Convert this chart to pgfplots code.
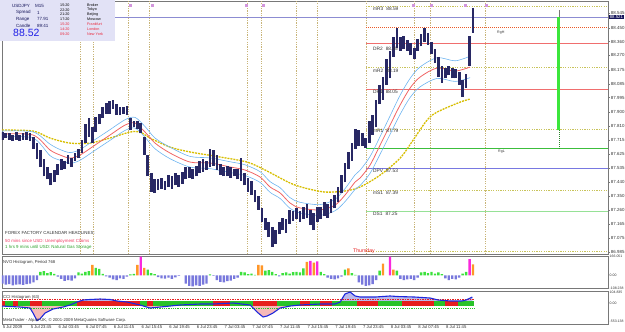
\documentclass[border=0pt]{standalone}
\usepackage{pgfplots}
\pgfplotsset{compat=1.18}
\usepackage{fontspec}
\setmainfont{Liberation Sans}
\definecolor{candle}{RGB}{40,40,100}
\definecolor{olivedot}{RGB}{200,195,90}
\definecolor{vdot}{RGB}{200,180,120}
\definecolor{rgh}{RGB}{235,90,40}
\definecolor{drred}{RGB}{240,110,110}
\definecolor{rgl}{RGB}{60,190,60}
\definecolor{dpv}{RGB}{120,120,225}
\definecolor{ds1}{RGB}{150,225,150}
\definecolor{bid}{RGB}{140,140,210}
\definecolor{maY}{RGB}{215,190,0}
\definecolor{maR}{RGB}{240,100,100}
\definecolor{maB}{RGB}{110,180,240}
\definecolor{nvoB}{RGB}{120,120,220}
\definecolor{nvoG}{RGB}{60,225,60}
\definecolor{nvoO}{RGB}{255,150,40}
\definecolor{nvoM}{RGB}{250,40,220}
\definecolor{cciR}{RGB}{230,30,30}
\definecolor{cciG}{RGB}{40,195,40}
\definecolor{cciL}{RGB}{30,40,220}
\definecolor{cciP}{RGB}{246,185,185}
\definecolor{cciU}{RGB}{185,185,235}
\definecolor{frame}{RGB}{120,120,120}
\definecolor{boxfill}{RGB}{226,226,246}
\definecolor{bidbox}{RGB}{20,20,90}
\definecolor{textgray}{RGB}{50,50,50}
\definecolor{infored}{RGB}{235,40,60}
\definecolor{pinkred}{RGB}{240,60,100}
\definecolor{ffgreen}{RGB}{40,160,40}
\definecolor{vbar}{RGB}{60,230,60}
\definecolor{mark}{RGB}{210,150,220}
\newcommand{\fs}[1]{\fontsize{#1}{#1}\selectfont}
\pgfplotsset{mtax/.style={scale only axis, anchor=south west,
  axis line style={draw=frame, line width=0.5pt},
  tick style={draw=frame, line width=0.4pt}, tick align=outside, major tick length=1.8pt,
  ytick pos=right, yticklabel pos=right,
  yticklabel style={font=\fs{4.4}, text=textgray, inner sep=1pt},
  xmin=-4.05, xmax=83.5, clip=true}}
\begin{document}
\begin{tikzpicture}
\path[use as bounding box] (0pt,0pt) rectangle (625pt,332pt);
%================ MAIN PRICE PANEL
\begin{axis}[mtax, at={(2pt,78pt)}, width=606pt, height=253pt,
  ymin=86.972, ymax=88.626, xtick=\empty,
  ytick={86.985,87.075,87.165,87.260,87.350,87.440,87.535,87.625,87.715,87.810,87.900,87.995,88.085,88.175,88.270,88.360,88.450,88.545},
  yticklabels={86.985,87.075,87.165,87.260,87.350,87.440,87.535,87.625,87.715,87.810,87.900,87.995,88.085,88.175,88.270,88.360,88.450,88.545}]
% session separators
\addplot[vdot, dash pattern=on 1.2pt off 1.2pt, line width=0.6pt, unbounded coords=jump] coordinates {
(7.23,86.972)(7.23,88.626)(7.23,nan)(9.10,86.972)(9.10,88.626)(9.10,nan)
(14.16,86.972)(14.16,88.626)(14.16,nan)(17.2,86.972)(17.2,88.626)(17.2,nan)
(31.36,86.972)(31.36,88.626)(31.36,nan)(33.38,86.972)(33.38,88.626)(33.38,nan)
(38.44,86.972)(38.44,88.626)(38.44,nan)(41.47,86.972)(41.47,88.626)(41.47,nan)
(48.55,86.972)(48.55,88.626)(48.55,nan)(55.49,86.972)(55.49,88.626)(55.49,nan)
(57.8,86.972)(57.8,88.626)(57.8,nan)(65.75,86.972)(65.75,88.626)};
% pivot levels
\addplot[olivedot, dash pattern=on 1.2pt off 1.2pt, line width=0.7pt, unbounded coords=jump] coordinates {
(48.55,88.59)(83.5,88.59)(83.5,nan)(48.55,88.19)(83.5,88.19)(83.5,nan)
(48.55,87.79)(83.5,87.79)(83.5,nan)(48.55,87.39)(83.5,87.39)(83.5,nan)
(48.55,86.99)(83.5,86.99)};
\addplot[rgh, dash pattern=on 1pt off 1pt, line width=0.9pt] coordinates {(48.55,88.45)(83.5,88.45)};
\addplot[drred, line width=0.7pt, unbounded coords=jump] coordinates {(48.55,88.35)(83.5,88.35)(83.5,nan)(48.55,88.05)(83.5,88.05)};
\addplot[rgl, line width=1.1pt] coordinates {(48.55,87.66)(83.5,87.66)};
\addplot[dpv, line width=0.9pt] coordinates {(48.55,87.53)(83.5,87.53)};
\addplot[ds1, line width=0.9pt] coordinates {(48.55,87.25)(83.5,87.25)};
% bid line
\addplot[bid, line width=0.9pt] coordinates {(-4.05,88.521)(83.5,88.521)};
% daily range bar
\addplot[vbar, line width=3pt] coordinates {(76.4,87.78)(76.4,88.521)};
\addplot[rgl!70!black, dash pattern=on 1pt off 1pt, line width=0.5pt] coordinates {(76.4,87.66)(76.4,87.78)};
\addplot[frame, line width=0.4pt] coordinates {(76.4,88.521)(76.4,88.57)};
% moving averages
\addplot[maY, line width=1.3pt, dash pattern=on 2pt off 1pt, smooth] coordinates {
(-4.05,87.782)(0.43,87.776)(2.89,87.730)(5.78,87.697)(8.67,87.697)(11.56,87.730)(14.45,87.769)(15.9,87.769)(17.34,87.730)(20.23,87.671)(23.12,87.639)(27.46,87.606)(31.36,87.573)(33.96,87.521)(37.57,87.436)(39.74,87.403)(42.63,87.377)(45.52,87.384)(47.69,87.410)(50.58,87.488)(53.47,87.599)(55.35,87.717)(57.37,87.848)(58.82,87.900)(62.14,87.965)(63.58,87.985)};
\addplot[maB, line width=0.6pt, smooth] coordinates {
(-4.05,87.776)(0.43,87.770)(2.89,87.69)(4.34,87.655)(5.78,87.635)(7.23,87.655)(9.39,87.72)(11.56,87.785)(13.73,87.85)(15.17,87.865)(16.62,87.805)(18.06,87.73)(20.23,87.67)(23.12,87.61)(26.01,87.60)(28.9,87.575)(31.07,87.555)(33.24,87.51)(34.68,87.445)(36.13,87.405)(37.57,87.34)(39.02,87.31)(41.91,87.295)(44.08,87.33)(45.52,87.40)(46.97,87.49)(47.69,87.52)(49.13,87.61)(50.58,87.74)(52.02,87.875)(53.47,88.01)(54.91,88.12)(56.36,88.195)(58.82,88.255)(61.42,88.235)(63.58,88.265)};
\addplot[maB, line width=0.6pt, smooth] coordinates {
(-4.05,87.736)(0.43,87.730)(2.89,87.615)(4.34,87.585)(5.78,87.565)(7.23,87.585)(9.39,87.65)(11.56,87.715)(13.73,87.78)(15.17,87.795)(16.62,87.735)(18.06,87.66)(20.23,87.595)(23.12,87.54)(26.01,87.53)(28.9,87.505)(31.07,87.485)(33.24,87.44)(34.68,87.375)(36.13,87.335)(37.57,87.27)(39.02,87.24)(41.91,87.225)(44.08,87.255)(45.52,87.315)(46.97,87.395)(47.69,87.42)(49.13,87.50)(50.58,87.625)(52.02,87.755)(53.47,87.885)(54.91,87.995)(56.36,88.065)(58.82,88.12)(61.42,88.10)(63.58,88.125)};
\addplot[maR, line width=0.8pt, smooth] coordinates {
(-4.05,87.756)(0.43,87.750)(2.89,87.652)(4.34,87.619)(5.78,87.599)(7.23,87.619)(9.39,87.684)(11.56,87.750)(13.73,87.815)(15.17,87.828)(16.62,87.769)(18.06,87.697)(20.23,87.632)(23.12,87.573)(26.01,87.567)(28.9,87.541)(31.07,87.521)(33.24,87.475)(34.68,87.410)(36.13,87.371)(37.57,87.305)(39.02,87.273)(41.91,87.260)(44.08,87.292)(45.52,87.358)(46.97,87.443)(47.69,87.469)(49.13,87.554)(50.58,87.684)(52.02,87.815)(53.47,87.946)(54.91,88.057)(56.36,88.129)(58.82,88.188)(61.42,88.168)(63.58,88.194)};
% candles (low-high ranges, 30-minute steps)
\addplot[candle, line width=2.7pt, unbounded coords=jump] coordinates {
(-4,87.72)(-4,87.77)(-4,nan)(-3.5,87.73)(-3.5,87.76)(-3.5,nan)(-3,87.72)(-3,87.76)(-3,nan)(-2.5,87.71)(-2.5,87.75)(-2.5,nan)
(-2,87.72)(-2,87.77)(-2,nan)(-1.5,87.71)(-1.5,87.75)(-1.5,nan)(-1,87.72)(-1,87.76)(-1,nan)(-0.5,87.72)(-0.5,87.77)(-0.5,nan)
(0,87.71)(0,87.76)(0,nan)(0.5,87.66)(0.5,87.74)(0.5,nan)(1,87.59)(1,87.70)(1,nan)(1.5,87.54)(1.5,87.65)(1.5,nan)
(2,87.48)(2,87.59)(2,nan)(2.5,87.46)(2.5,87.54)(2.5,nan)(3,87.42)(3,87.50)(3,nan)(3.5,87.44)(3.5,87.52)(3.5,nan)
(4,87.49)(4,87.56)(4,nan)(4.5,87.52)(4.5,87.59)(4.5,nan)(5,87.53)(5,87.58)(5,nan)(5.5,87.56)(5.5,87.62)(5.5,nan)
(6,87.54)(6,87.60)(6,nan)(6.5,87.58)(6.5,87.63)(6.5,nan)(7,87.60)(7,87.66)(7,nan)(7.5,87.63)(7.5,87.72)(7.5,nan)
(8,87.70)(8,87.82)(8,nan)(8.5,87.74)(8.5,87.86)(8.5,nan)(9,87.70)(9,87.80)(9,nan)(9.5,87.77)(9.5,87.87)(9.5,nan)
(10,87.82)(10,87.89)(10,nan)(10.5,87.86)(10.5,87.93)(10.5,nan)(11,87.89)(11,87.96)(11,nan)(11.5,87.89)(11.5,87.97)(11.5,nan)
(12,87.92)(12,87.98)(12,nan)(12.5,87.88)(12.5,87.95)(12.5,nan)(13,87.88)(13,87.93)(13,nan)(13.5,87.89)(13.5,87.93)(13.5,nan)
(14,87.88)(14,87.94)(14,nan)(14.5,87.78)(14.5,87.86)(14.5,nan)(15,87.80)(15,87.84)(15,nan)(15.5,87.79)(15.5,87.84)(15.5,nan)
(16,87.76)(16,87.83)(16,nan)(16.5,87.62)(16.5,87.74)(16.5,nan)(17,87.48)(17,87.62)(17,nan)(17.5,87.38)(17.5,87.50)(17.5,nan)
(18,87.37)(18,87.46)(18,nan)(18.5,87.39)(18.5,87.46)(18.5,nan)(19,87.40)(19,87.47)(19,nan)(19.5,87.39)(19.5,87.45)(19.5,nan)
(20,87.41)(20,87.49)(20,nan)(20.5,87.40)(20.5,87.48)(20.5,nan)(21,87.42)(21,87.50)(21,nan)(21.5,87.41)(21.5,87.49)(21.5,nan)
(22,87.43)(22,87.51)(22,nan)(22.5,87.46)(22.5,87.54)(22.5,nan)(23,87.47)(23,87.54)(23,nan)(23.5,87.46)(23.5,87.53)(23.5,nan)
(24,87.48)(24,87.55)(24,nan)(24.5,87.50)(24.5,87.58)(24.5,nan)(25,87.51)(25,87.59)(25,nan)(25.5,87.52)(25.5,87.58)(25.5,nan)
(26,87.54)(26,87.66)(26,nan)(26.5,87.55)(26.5,87.65)(26.5,nan)(27,87.52)(27,87.62)(27,nan)(27.5,87.49)(27.5,87.56)(27.5,nan)
(28,87.48)(28,87.54)(28,nan)(28.5,87.48)(28.5,87.55)(28.5,nan)(29,87.47)(29,87.54)(29,nan)(29.5,87.48)(29.5,87.53)(29.5,nan)
(30,87.46)(30,87.53)(30,nan)(30.5,87.45)(30.5,87.60)(30.5,nan)(31,87.42)(31,87.50)(31,nan)(31.5,87.38)(31.5,87.47)(31.5,nan)
(32,87.36)(32,87.45)(32,nan)(32.5,87.31)(32.5,87.39)(32.5,nan)(33,87.26)(33,87.35)(33,nan)(33.5,87.18)(33.5,87.27)(33.5,nan)
(34,87.13)(34,87.21)(34,nan)(34.5,87.08)(34.5,87.18)(34.5,nan)(35,87.02)(35,87.15)(35,nan)(35.5,87.04)(35.5,87.13)(35.5,nan)
(36,87.10)(36,87.18)(36,nan)(36.5,87.13)(36.5,87.21)(36.5,nan)(37,87.11)(37,87.20)(37,nan)(37.5,87.17)(37.5,87.26)(37.5,nan)
(38,87.19)(38,87.25)(38,nan)(38.5,87.20)(38.5,87.27)(38.5,nan)(39,87.18)(39,87.25)(39,nan)(39.5,87.20)(39.5,87.28)(39.5,nan)
(40,87.21)(40,87.30)(40,nan)(40.5,87.16)(40.5,87.26)(40.5,nan)(41,87.13)(41,87.24)(41,nan)(41.5,87.18)(41.5,87.28)(41.5,nan)
(42,87.20)(42,87.28)(42,nan)(42.5,87.22)(42.5,87.31)(42.5,nan)(43,87.21)(43,87.30)(43,nan)(43.5,87.24)(43.5,87.33)(43.5,nan)
(44,87.27)(44,87.36)(44,nan)(44.5,87.31)(44.5,87.41)(44.5,nan)(45,87.37)(45,87.49)(45,nan)(45.5,87.44)(45.5,87.57)(45.5,nan)
(46,87.53)(46,87.64)(46,nan)(46.5,87.58)(46.5,87.70)(46.5,nan)(47,87.66)(47,87.79)(47,nan)(47.5,87.68)(47.5,87.78)(47.5,nan)
(48,87.68)(48,87.76)(48,nan)(48.5,87.665)(48.5,87.73)(48.5,nan)(49,87.70)(49,87.84)(49,nan)(49.5,87.75)(49.5,87.88)(49.5,nan)
(50,87.80)(50,87.98)(50,nan)(50.5,87.95)(50.5,88.08)(50.5,nan)(51,87.98)(51,88.13)(51,nan)(51.5,88.08)(51.5,88.25)(51.5,nan)
(52,88.12)(52,88.30)(52,nan)(52.5,88.26)(52.5,88.39)(52.5,nan)(53,88.32)(53,88.45)(53,nan)(53.5,88.30)(53.5,88.39)(53.5,nan)
(54,88.31)(54,88.40)(54,nan)(54.5,88.30)(54.5,88.37)(54.5,nan)(55,88.27)(55,88.35)(55,nan)(55.5,88.25)(55.5,88.32)(55.5,nan)
(56,88.30)(56,88.38)(56,nan)(56.5,88.33)(56.5,88.41)(56.5,nan)(57,88.36)(57,88.45)(57,nan)(57.5,88.34)(57.5,88.42)(57.5,nan)
(58,88.28)(58,88.36)(58,nan)(58.5,88.22)(58.5,88.31)(58.5,nan)(59,88.13)(59,88.26)(59,nan)(59.5,88.09)(59.5,88.20)(59.5,nan)
(60,88.12)(60,88.19)(60,nan)(60.5,88.14)(60.5,88.20)(60.5,nan)(61,88.12)(61,88.19)(61,nan)(61.5,88.12)(61.5,88.18)(61.5,nan)
(62,88.08)(62,88.16)(62,nan)(62.5,88.00)(62.5,88.11)(62.5,nan)(63,88.06)(63,88.15)(63,nan)(63.5,88.20)(63.5,88.40)(63.5,nan)
(64,88.42)(64,88.58)};
% event markers
\addplot[only marks, mark=square*, mark size=1pt, mark options={fill=mark, draw=mark}] coordinates {
(14.45,88.60)(17.63,88.60)(31.2,88.60)(33.67,88.60)(55.35,88.60)(57.95,88.60)(62.86,88.60)(65.9,88.60)};
\end{axis}
% level labels (over the candles)
\begin{scope}[every node/.style={anchor=west, inner sep=0pt, font=\fs{4.8}, text=textgray}]
\node at (373pt,323pt) {mR3\hspace{3pt}88.59};
\node at (373pt,283pt) {DR2\hspace{3pt}88.35};
\node at (373pt,261pt) {mR2\hspace{3pt}88.19};
\node at (373pt,240pt) {DR1\hspace{3pt}88.05};
\node at (373pt,201pt) {mR1\hspace{3pt}87.79};
\node at (373pt,161pt) {DPV\hspace{3pt}87.53};
\node at (373pt,139pt) {mS1\hspace{3pt}87.39};
\node at (373pt,118pt) {DS1\hspace{3pt}87.25};
\node[font=\fs{3.6}] at (497pt,299pt) {RgH};
\node[font=\fs{3.6}] at (498pt,180pt) {RgL};
\end{scope}
%================ NVO PANEL
\begin{axis}[mtax, at={(2pt,44pt)}, width=606pt, height=32pt,
  ymin=-108.238, ymax=166.051, xtick=\empty, major tick length=1pt,
  yticklabel style={font=\fs{3.5}, text=textgray, inner sep=0.5pt},
  ytick={-108.238,0,166.051}, yticklabels={-108.238,0.00,166.051}]
\addplot[ybar, bar width=2.4pt, bar shift=0pt, fill=nvoB, draw=none] coordinates {
(-4,-70)(-3.5,-80)(-3,-75)(-2.5,-85)(-2,-80)(-1.5,-78)(-1,-82)(-0.5,-75)(0,-70)(0.5,-60)(1,-40)(4,-10)(4.5,-30)(5,-47)(5.5,-40)(6,-45)(6.5,-25)(11,-8)(11.5,-20)(12,-35)(12.5,-40)(13,-25)(13.5,-30)(14,-10)(18.5,-15)(19,-25)(19.5,-28)(20,-20)(20.5,-30)(21,-18)(21.5,-5)(22.5,-70)(23,-90)(23.5,-95)(24,-85)(24.5,-90)(25,-80)(25.5,-70)(26.5,-5)(27,-40)(27.5,-55)(28,-60)(28.5,-50)(29,-45)(29.5,-30)(30,-20)(36,-8)(43,-20)(43.5,-30)(44,-35)(44.5,-25)(45,-10)(47.5,-60)(48,-80)(48.5,-90)(49,-85)(49.5,-75)(50,-40)(53.5,-30)(54,-40)(54.5,-35)(55,-30)(55.5,-40)(56,-20)(60,-25)(60.5,-40)(61,-30)(61.5,-35)(62,-20)};
\addplot[ybar, bar width=2.4pt, bar shift=0pt, fill=nvoG, draw=none] coordinates {
(1.5,30)(2,36)(2.5,20)(3,28)(3.5,12)(7,25)(7.5,15)(8,30)(8.5,36)(9.5,64)(10,55)(10.5,12)(14.5,8)(15,12)(17,50)(17.5,20)(18,10)(26,8)(30.5,30)(31,25)(31.5,10)(32,15)(32.5,5)(34,40)(34.5,45)(35,30)(35.5,10)(36.5,20)(37,25)(37.5,15)(38,28)(38.5,30)(39,25)(39.5,60)(42,30)(42.5,10)(45.5,50)(46.5,20)(47,5)(50.5,40)(53,40)(56.5,25)(57,30)(57.5,20)(58,30)(58.5,15)(59,25)(59.5,10)(62.5,15)(63,30)};
\addplot[ybar, bar width=2.4pt, bar shift=0pt, fill=nvoO, draw=none] coordinates {
(9,90)(15.5,90)(16.5,64)(33,90)(33.5,85)(40,115)(41,110)(46,60)(51,100)(52.5,50)(64,95)};
\addplot[ybar, bar width=2.4pt, bar shift=0pt, fill=nvoM, draw=none] coordinates {
(16,160)(40.5,125)(41.5,120)(52,160)(63.5,140)};
\end{axis}
%================ CCI PANEL
\begin{axis}[mtax, at={(2pt,8pt)}, width=606pt, height=33pt,
  ymin=-455, ymax=278, major tick length=1pt,
  yticklabel style={font=\fs{3.5}, text=textgray, inner sep=0.5pt},
  ytick={-400,0,240}, yticklabels={-553.138,0.00,104.835},
  xtick={-4.05,0,4,8,12,16,20,24,28,32,36,40,44,48,52,56,60},
  xticklabels={5 Jul 2009,5 Jul 23:45,6 Jul 03:45,6 Jul 07:45,6 Jul 11:45,6 Jul 15:45,6 Jul 19:45,6 Jul 23:45,7 Jul 03:45,7 Jul 07:45,7 Jul 11:45,7 Jul 15:45,7 Jul 19:45,7 Jul 23:45,8 Jul 03:45,8 Jul 07:45,8 Jul 11:45},
  xtick pos=bottom,
  xticklabel style={font=\fs{4.2}, text=textgray, anchor=north west, inner sep=0.6pt}]
\addplot[fill=cciP, draw=none] coordinates {
(-4.05,-56)(-1.45,-78)(0,-100)(0.43,-211)(1.01,-380)(1.45,-340)(2.17,-211)(3.32,-122)(4.77,-78)(5.78,-33)(6.28,0)(14.96,0)(15.9,-33)(17.34,-100)(18.79,-78)(21.68,-33)(24.57,-11)(26.45,-11)(27.9,0)(29.9,0)(31.79,-33)(32.8,-189)(33.67,-300)(34.25,-278)(35.1,-211)(36.13,-100)(37.57,-56)(39.0,-33)(41.9,-11)(44.07,-11)(44.3,0)(63.9,0)} \closedcycle;
\addplot[fill=cciU, draw=none] coordinates {
(-4.05,0)(6.28,0)(6.79,33)(7.66,78)(8.67,89)(10.12,100)(11.56,89)(12.57,56)(14.02,33)(14.96,0)(27.9,0)(29.34,11)(29.9,0)(44.3,0)(44.8,33)(45.5,211)(46.24,255)(46.97,167)(47.7,144)(49.86,144)(52.0,167)(53.2,155)(55.6,144)(57.8,122)(58.96,78)(60.7,56)(62.4,56)(63.0,78)(63.9,144)} \closedcycle;
\addplot[cciR, line width=4.4pt, unbounded coords=jump] coordinates {
(-4.05,0)(-3.6,0)(-3.6,nan)(-2.5,0)(-1.7,0)(-1.7,nan)(0,0)(1.7,0)(1.7,nan)(6.8,0)(15.9,0)(15.9,nan)(16.9,0)(17.8,0)(17.8,nan)(26.4,0)(28.9,0)(28.9,nan)(32.2,0)(35.7,0)(35.7,nan)(39,0)(40.5,0)(40.5,nan)(41.9,0)(43.6,0)(43.6,nan)(47.3,0)(50.3,0)(50.3,nan)(53.8,0)(58.4,0)(58.4,nan)(60,0)(61.8,0)};
\addplot[cciG, line width=4.4pt, unbounded coords=jump] coordinates {
(-3.6,0)(-2.5,0)(-2.5,nan)(-1.7,0)(0,0)(0,nan)(1.7,0)(6.8,0)(6.8,nan)(15.9,0)(16.9,0)(16.9,nan)(17.8,0)(26.4,0)(26.4,nan)(28.9,0)(32.2,0)(32.2,nan)(35.7,0)(39,0)(39,nan)(40.5,0)(41.9,0)(41.9,nan)(43.6,0)(47.3,0)(47.3,nan)(50.3,0)(53.8,0)(53.8,nan)(58.4,0)(60,0)(60,nan)(61.8,0)(64.2,0)};
\addplot[cciR, dash pattern=on 1.5pt off 1pt, line width=0.5pt] coordinates {(-4.05,100)(64.2,100)};
\addplot[cciG, dash pattern=on 0.8pt off 1pt, line width=0.5pt] coordinates {(-4.05,-100)(64.2,-100)};
\addplot[cciL, line width=1.1pt] coordinates {
(-4.05,-56)(-1.45,-78)(0,-100)(0.43,-211)(1.01,-380)(1.45,-340)(2.17,-211)(3.32,-122)(4.77,-78)(5.78,-33)(6.79,33)(7.66,78)(8.67,89)(10.12,100)(11.56,89)(12.57,56)(14.02,33)(15.9,-33)(17.34,-100)(18.79,-78)(21.68,-33)(24.57,-11)(26.45,-11)(29.34,11)(31.79,-33)(32.8,-189)(33.67,-300)(34.25,-278)(35.1,-211)(36.13,-100)(37.57,-56)(39.0,-33)(41.9,-11)(44.07,-11)(44.8,33)(45.5,211)(46.24,255)(46.97,167)(47.7,144)(49.86,144)(52.0,167)(53.2,155)(55.6,144)(57.8,122)(58.96,78)(60.7,56)(62.4,56)(63.0,78)(63.9,144)};
\end{axis}
%================ overlays
\node[anchor=west, inner sep=0.6pt, fill=bidbox, text=white, font=\fs{4.3}] at (609pt,315pt) {88.521};
\node[anchor=center, inner sep=0pt, text=cciR, font=\fs{5.2}] at (364pt,81pt) {Thursday};
\begin{scope}[every node/.style={anchor=west, inner sep=0pt, font=\fs{4.2}, text=textgray}]
\node at (3pt,70pt) {NVO Histogram, Period 768};
\node at (3pt,35pt) {CCI Histogram (63)};
\node at (3pt,12pt) {MetaTrader - Alpari UK, © 2001-2009 MetaQuotes Software Corp.};
\node[font=\fs{4.4}] at (5pt,99pt) {FOREX FACTORY CALENDAR HEADLINES:};
\node[font=\fs{4.4}, text=pinkred] at (5pt,91pt) {50 mins since USD: Unemployment Claims};
\node[font=\fs{4.4}, text=ffgreen] at (5pt,84.5pt) {1 hrs 9 mins until USD: Natural Gas Storage};
\end{scope}
% info box
\fill[boxfill] (0pt,291pt) rectangle (115pt,332pt);
\begin{scope}[every node/.style={anchor=west, inner sep=0pt, font=\fs{4.5}, text=bidbox}]
\node at (12pt,326pt) {USDJPY};
\node at (35pt,326pt) {M15};
\node at (16pt,319.5pt) {Spread};
\node at (37pt,319.5pt) {1};
\node at (16pt,313pt) {Range};
\node at (37pt,313pt) {77.91};
\node at (16pt,306.5pt) {Candle};
\node at (37pt,306.5pt) {89:41};
\node[font=\fs{10.5}, text={rgb,255:red,30;green,30;blue,230}] at (13pt,299pt) {88.52};
\end{scope}
\begin{scope}[every node/.style={anchor=west, inner sep=0pt, font=\fs{3.7}, text=black}]
\node at (60pt,327pt) {15:20}; \node at (87pt,327pt) {Broker};
\node at (60pt,322.2pt) {22:20}; \node at (87pt,322.2pt) {Tokyo};
\node at (60pt,317.3pt) {21:20}; \node at (87pt,317.3pt) {Beijing};
\node at (60pt,312.4pt) {17:20}; \node at (87pt,312.4pt) {Moscow};
\node[text=infored] at (60pt,307.5pt) {15:20}; \node[text=infored] at (87pt,307.5pt) {Frankfurt};
\node[text=infored] at (60pt,302.6pt) {14:20}; \node[text=infored] at (87pt,302.6pt) {London};
\node[text=infored] at (60pt,297.7pt) {09:20}; \node[text=infored] at (87pt,297.7pt) {New York};
\end{scope}
\end{tikzpicture}
\end{document}
